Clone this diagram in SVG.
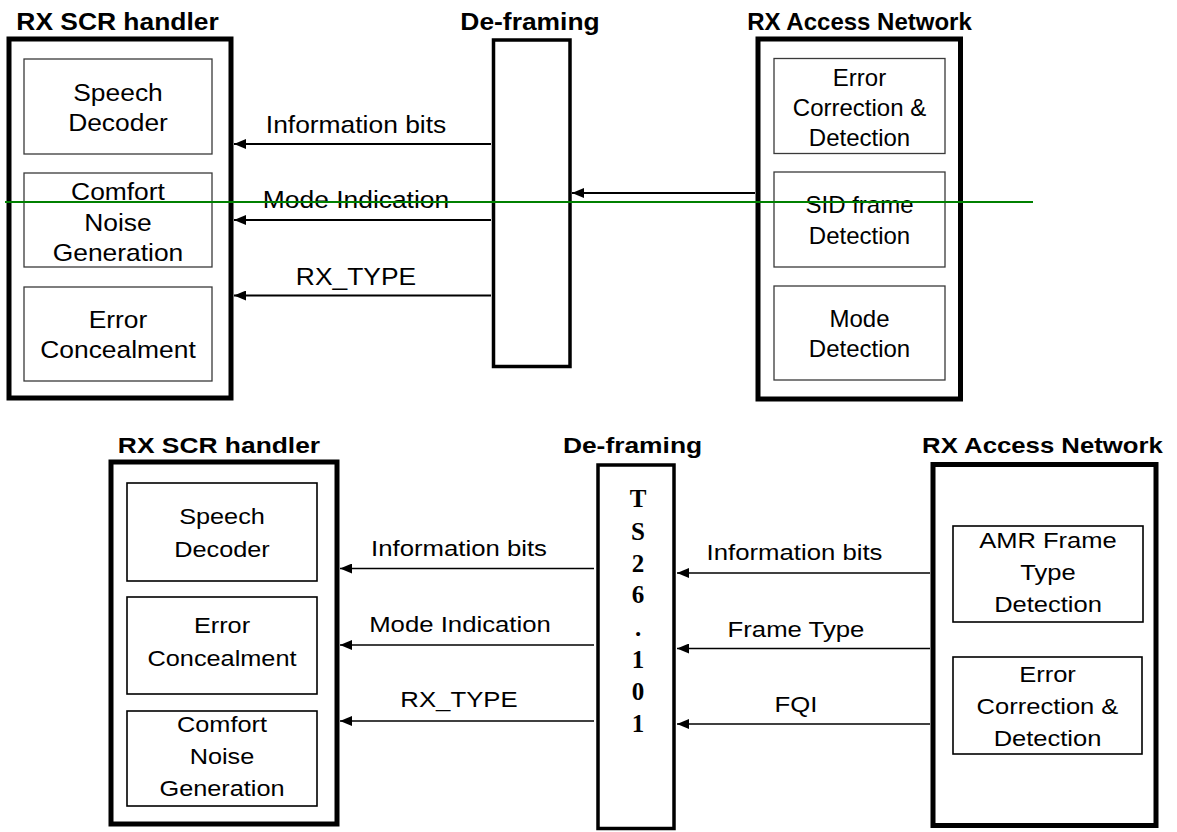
<svg xmlns="http://www.w3.org/2000/svg" width="1177" height="832" viewBox="0 0 1177 832">
  <defs>
    <style>
      text { font-family: "Liberation Sans", Arial, sans-serif; fill: #000; text-anchor: middle; }
      .t24 { font-size: 24px; }
      .t22 { font-size: 22px; }
      .b24 { font-size: 24px; font-weight: bold; }
      .b22 { font-size: 22px; font-weight: bold; }
      .serif { font-family: "Liberation Serif", "Times New Roman", serif; font-size: 25px; font-weight: bold; }
      .outer { fill: #fff; stroke: #000; stroke-width: 5; }
      .frame { fill: #fff; stroke: #000; stroke-width: 3.5; }
      .inner { fill: #fff; stroke: #3a3a3a; stroke-width: 1.3; }
      .innerb { fill: #fff; stroke: #000; stroke-width: 1.6; }
      .flow { stroke: #000; stroke-width: 2; fill: none; marker-end: url(#head); }
      .flowb { stroke: #000; stroke-width: 1.7; fill: none; marker-end: url(#head); }
    </style>
    <marker id="head" markerUnits="userSpaceOnUse" markerWidth="12" markerHeight="10" refX="12" refY="5" orient="auto">
      <path d="M0,0 L12,5 L0,10 z" fill="#000"/>
    </marker>
  </defs>

  <!-- ===== Upper diagram ===== -->
  <g id="top-scr-handler">
    <text class="b24" transform="translate(117.5 30) scale(1.1 1)">RX SCR handler</text>
    <rect class="outer" x="9" y="39" width="222" height="359"/>
    <rect class="inner" x="24" y="59" width="188" height="95"/>
    <text class="t24" transform="translate(118 100.5) scale(1.1 1)">Speech</text>
    <text class="t24" transform="translate(118 130.5) scale(1.1 1)">Decoder</text>
    <rect class="inner" x="24" y="173" width="188" height="94"/>
    <text class="t24" transform="translate(118 200) scale(1.1 1)">Comfort</text>
    <text class="t24" transform="translate(118 230.5) scale(1.1 1)">Noise</text>
    <text class="t24" transform="translate(118 260.5) scale(1.1 1)">Generation</text>
    <rect class="inner" x="24" y="287" width="188" height="94"/>
    <text class="t24" transform="translate(118 328) scale(1.1 1)">Error</text>
    <text class="t24" transform="translate(118 358) scale(1.1 1)">Concealment</text>
  </g>

  <g id="top-deframing">
    <text class="b24" transform="translate(530 30) scale(1.1 1)">De-framing</text>
    <rect class="frame" x="493.5" y="40" width="76.5" height="326.5"/>
  </g>

  <g id="top-access-network">
    <text class="b24" transform="translate(859.5 30)">RX Access Network</text>
    <rect class="outer" x="758" y="39" width="202.5" height="360"/>
    <rect class="inner" x="774" y="58.5" width="171" height="95"/>
    <text class="t24" transform="translate(859.5 86)">Error</text>
    <text class="t24" transform="translate(859.5 116)">Correction &amp;</text>
    <text class="t24" transform="translate(859.5 146)">Detection</text>
    <rect class="inner" x="774" y="172" width="171" height="95"/>
    <text class="t24" transform="translate(859.5 213)">SID frame</text>
    <text class="t24" transform="translate(859.5 244)">Detection</text>
    <rect class="inner" x="774" y="286" width="171" height="94"/>
    <text class="t24" transform="translate(859.5 327)">Mode</text>
    <text class="t24" transform="translate(859.5 357)">Detection</text>
  </g>

  <!-- ===== Lower diagram ===== -->
  <g id="bottom-scr-handler">
    <text class="b22" transform="translate(219 453) scale(1.2 1)">RX SCR handler</text>
    <rect class="outer" x="111" y="462" width="226" height="362"/>
    <rect class="innerb" x="127" y="483" width="190" height="98"/>
    <text class="t22" transform="translate(222 524) scale(1.15 1)">Speech</text>
    <text class="t22" transform="translate(222 556.5) scale(1.15 1)">Decoder</text>
    <rect class="innerb" x="127" y="597" width="190" height="97"/>
    <text class="t22" transform="translate(222 633) scale(1.15 1)">Error</text>
    <text class="t22" transform="translate(222 666) scale(1.15 1)">Concealment</text>
    <rect class="innerb" x="127" y="711" width="190" height="95"/>
    <text class="t22" transform="translate(222 731.5) scale(1.15 1)">Comfort</text>
    <text class="t22" transform="translate(222 764) scale(1.15 1)">Noise</text>
    <text class="t22" transform="translate(222 796) scale(1.15 1)">Generation</text>
  </g>

  <g id="bottom-deframing">
    <text class="b22" transform="translate(632.5 453) scale(1.2 1)">De-framing</text>
    <rect class="frame" x="598" y="465" width="76" height="363.5" stroke-width="4"/>
    <text class="serif" x="638" y="507">T</text>
    <text class="serif" x="638" y="540">S</text>
    <text class="serif" x="638" y="572">2</text>
    <text class="serif" x="638" y="603">6</text>
    <text class="serif" x="638" y="636">.</text>
    <text class="serif" x="638" y="668">1</text>
    <text class="serif" x="638" y="700">0</text>
    <text class="serif" x="638" y="732">1</text>
  </g>

  <g id="bottom-access-network">
    <text class="b22" transform="translate(1042.5 453) scale(1.17 1)">RX Access Network</text>
    <rect class="outer" x="933" y="464.5" width="223" height="361" stroke-width="5.5"/>
    <rect class="innerb" x="953" y="526" width="190" height="96"/>
    <text class="t22" transform="translate(1048 547.5) scale(1.16 1)">AMR Frame</text>
    <text class="t22" transform="translate(1048 580) scale(1.16 1)">Type</text>
    <text class="t22" transform="translate(1048 612) scale(1.16 1)">Detection</text>
    <rect class="innerb" x="953" y="657" width="189" height="97"/>
    <text class="t22" transform="translate(1047.5 682) scale(1.16 1)">Error</text>
    <text class="t22" transform="translate(1047.5 714) scale(1.16 1)">Correction &amp;</text>
    <text class="t22" transform="translate(1047.5 746) scale(1.16 1)">Detection</text>
  </g>

  <!-- ===== Connectors ===== -->
  <g id="connectors">
    <line class="flow" x1="491" y1="144" x2="234" y2="144"/>
    <line class="flow" x1="491" y1="220" x2="234" y2="220"/>
    <line class="flow" x1="491" y1="295.5" x2="234" y2="295.5"/>
    <line class="flow" x1="755" y1="193" x2="572" y2="193"/>

    <line class="flowb" x1="594" y1="568.5" x2="340" y2="568.5"/>
    <line class="flowb" x1="594" y1="645" x2="340" y2="645"/>
    <line class="flowb" x1="594" y1="721" x2="340" y2="721"/>
    <line class="flowb" x1="930" y1="573" x2="677" y2="573"/>
    <line class="flowb" x1="930" y1="648.5" x2="677" y2="648.5"/>
    <line class="flowb" x1="930" y1="724" x2="677" y2="724"/>
  </g>

  <g id="connector-labels">
    <text class="t24" transform="translate(356 132.5) scale(1.1 1)">Information bits</text>
    <text class="t24" transform="translate(356 207.5) scale(1.1 1)">Mode Indication</text>
    <text class="t24" transform="translate(356 285) scale(1.1 1)">RX_TYPE</text>

    <text class="t22" transform="translate(459 555.5) scale(1.17 1)">Information bits</text>
    <text class="t22" transform="translate(460 631.5) scale(1.17 1)">Mode Indication</text>
    <text class="t22" transform="translate(459 706.5) scale(1.17 1)">RX_TYPE</text>
    <text class="t22" transform="translate(794.5 560) scale(1.17 1)">Information bits</text>
    <text class="t22" transform="translate(796 636.5) scale(1.17 1)">Frame Type</text>
    <text class="t22" transform="translate(796 711.5) scale(1.17 1)">FQI</text>
  </g>

  <!-- horizontal green rule across the upper diagram -->
  <line x1="5" y1="202" x2="1033" y2="202" stroke="#008000" stroke-width="2"/>
</svg>
